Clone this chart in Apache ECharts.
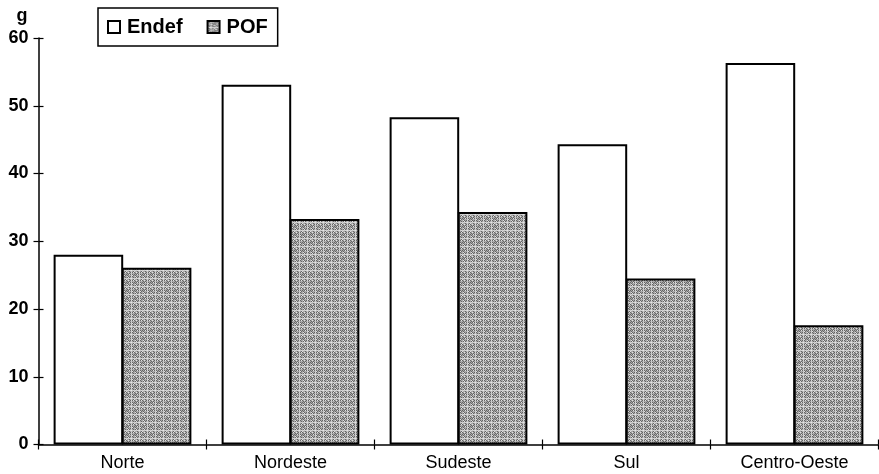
<!DOCTYPE html>
<html>
<head>
<meta charset="utf-8">
<script src="https://cdn.jsdelivr.net/npm/echarts@6/dist/echarts.min.js"></script>
<style>
html,body{margin:0;padding:0;background:#fff;}
#chart{width:879px;height:474px;}
</style>
</head>
<body>
<div id="chart"></div>
<script>
const categories = ['Norte', 'Nordeste', 'Sudeste', 'Sul', 'Centro-Oeste'];
const endefValues = [28.0, 53.1, 48.3, 44.3, 56.3];
const pofValues = [26.1, 33.3, 34.3, 24.5, 17.6];
const seriesNames = ['Endef', 'POF'];
const yTicks = [0, 10, 20, 30, 40, 50, 60];

// stipple texture for POF bars
function makePattern() {
  const c = document.createElement('canvas');
  c.width = 8; c.height = 8;
  const ctx = c.getContext('2d');
  ctx.fillStyle = '#a8a8a8';
  ctx.fillRect(0, 0, 8, 8);
  for (let y = 0; y < 8; y++) {
    for (let x = 0; x < 8; x++) {
      if ((x + y) % 2 === 0 && (x * 5 + y * 3) % 7 !== 0) { ctx.fillStyle = '#666666'; ctx.fillRect(x, y, 1, 1); }
      else if ((x * 3 + y) % 5 === 0) { ctx.fillStyle = '#e0e0e0'; ctx.fillRect(x, y, 1, 1); }
    }
  }
  ctx.fillStyle = 'rgba(230,230,230,0.75)';
  ctx.fillRect(3, 0, 1, 8);
  ctx.fillRect(0, 6, 8, 1);
  return c;
}
const pofFill = { image: makePattern(), repeat: 'repeat' };

const FONT = 'Liberation Sans, Arial, Helvetica, sans-serif';
const chart = echarts.init(document.getElementById('chart'), null, { renderer: 'canvas' });

chart.setOption({
  backgroundColor: '#ffffff',
  animation: false,
  textStyle: { fontFamily: FONT, color: '#000' },
  legend: {
    data: seriesNames,
    icon: 'rect',
    left: 98, top: 8,
    orient: 'horizontal',
    padding: [9, 10, 9, 9],
    itemGap: 24,
    itemWidth: 12, itemHeight: 12,
    borderColor: '#000', borderWidth: 1.5,
    textStyle: { fontFamily: FONT, fontSize: 20, fontWeight: 'bold', color: '#000', padding: [0, 0, 0, 2] }
  },
  grid: { left: 38.5, right: 0.5, top: 38, bottom: 29.5, containLabel: false, outerBoundsMode: 'none' },
  xAxis: [{
    type: 'category',
    data: categories,
    position: 'bottom',
    axisLine: { lineStyle: { color: '#000', width: 1.5 } },
    axisTick: { show: true, length: 5, lineStyle: { color: '#000', width: 1.2 } },
    axisLabel: { color: '#000', fontSize: 18, fontFamily: FONT, margin: 10 },
    splitLine: { show: false }
  }, {
    type: 'category',
    data: categories,
    position: 'bottom',
    axisLine: { show: false },
    axisTick: { show: true, inside: true, length: 5, lineStyle: { color: '#000', width: 1.2 } },
    axisLabel: { show: false },
    splitLine: { show: false }
  }],
  yAxis: [{
    type: 'value',
    min: yTicks[0], max: yTicks[yTicks.length - 1], interval: 10,
    name: 'g',
    nameLocation: 'end',
    nameGap: 13,
    nameTextStyle: { color: '#000', fontSize: 18, fontWeight: 'bold', fontFamily: FONT, align: 'right', padding: [0, 11, 0, 0] },
    axisLine: { show: true, lineStyle: { color: '#000', width: 1.5 } },
    axisTick: { show: true, length: 5, lineStyle: { color: '#000', width: 1.2 } },
    axisLabel: { color: '#000', fontSize: 18, fontWeight: 'bold', fontFamily: FONT, margin: 10 },
    splitLine: { show: false }
  }, {
    type: 'value',
    position: 'left',
    offset: 0,
    min: yTicks[0], max: yTicks[yTicks.length - 1], interval: 10,
    axisLine: { show: false },
    axisTick: { show: true, inside: true, length: 5, lineStyle: { color: '#000', width: 1.2 } },
    axisLabel: { show: false },
    splitLine: { show: false }
  }],
  series: [{
    name: seriesNames[0],
    type: 'bar',
    data: endefValues,
    barGap: '-2%',
    barCategoryGap: '18%',
    itemStyle: { color: '#ffffff', borderColor: '#000', borderWidth: 2 }
  }, {
    name: seriesNames[1],
    type: 'bar',
    data: pofValues,
    barGap: '-2%',
    barCategoryGap: '18%',
    itemStyle: { color: pofFill, borderColor: '#000', borderWidth: 2 }
  }]
});
</script>
</body>
</html>
